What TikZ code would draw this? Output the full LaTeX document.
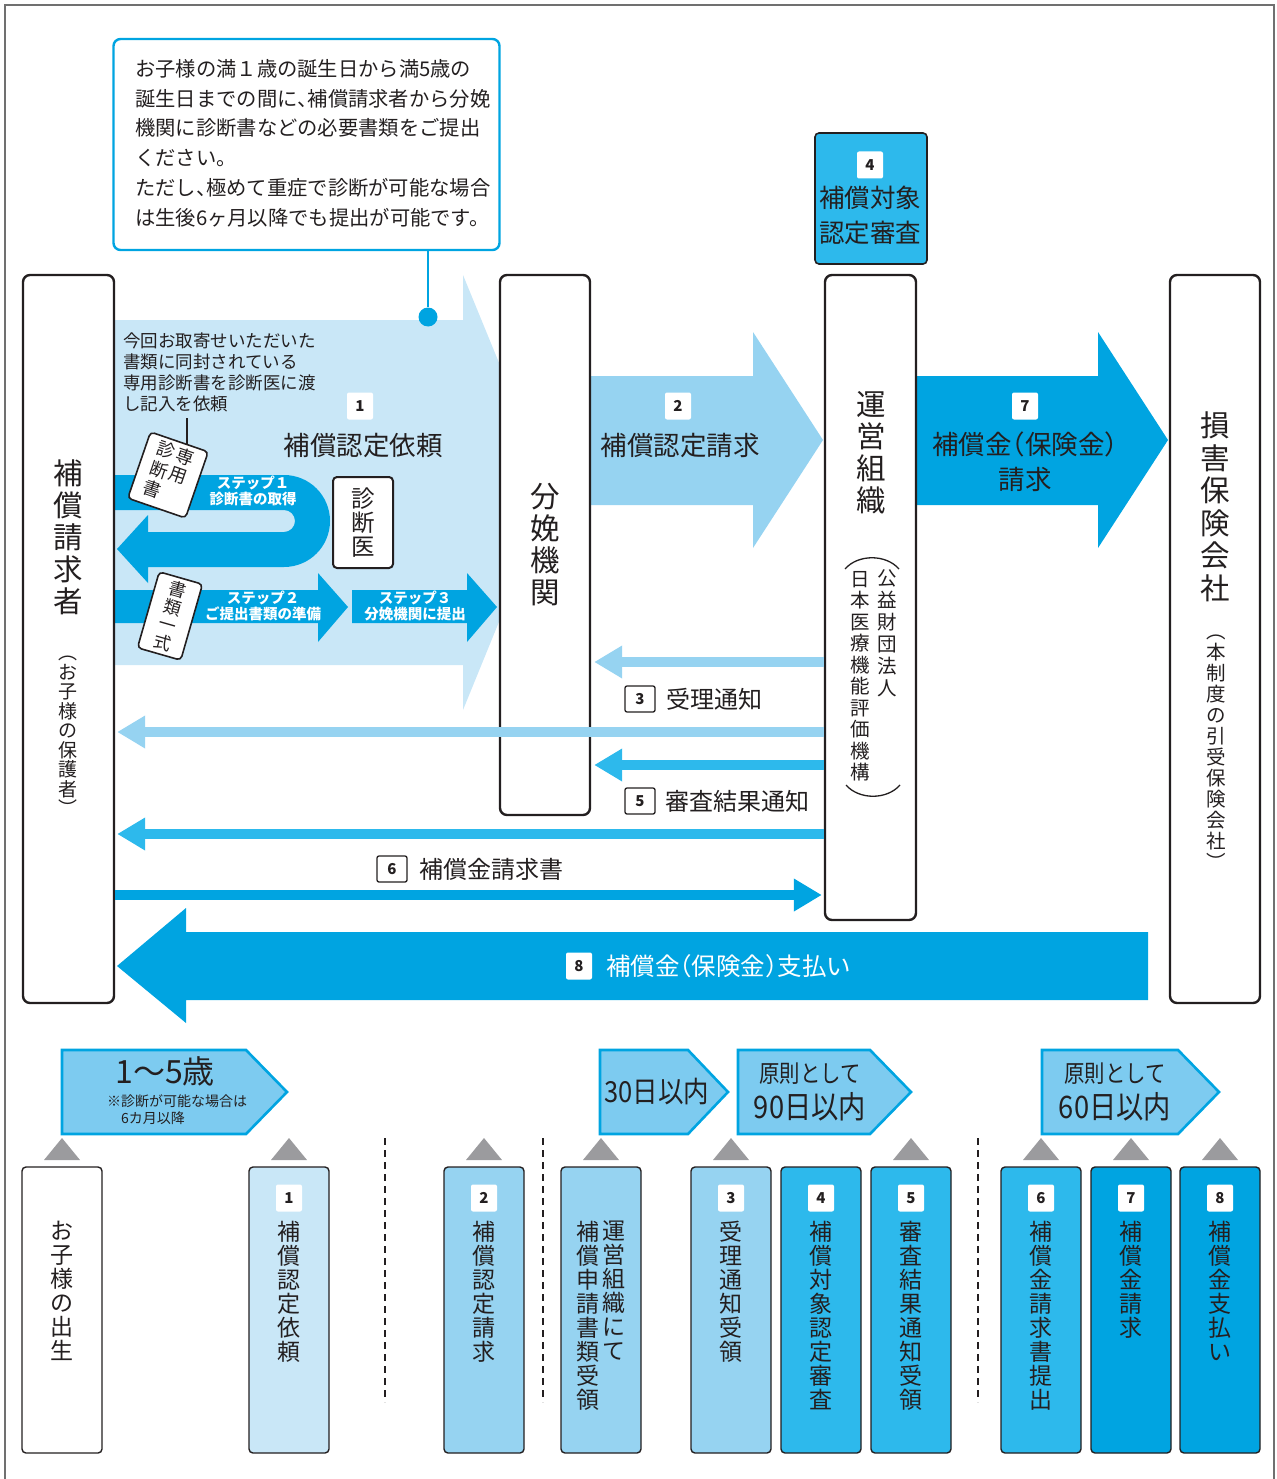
\documentclass[tikz,border=0pt]{standalone}
\usepackage{fontspec}
\usepackage{graphicx}
\setmainfont{Noto Sans CJK JP}
\usetikzlibrary{arrows.meta}
\definecolor{cA}{HTML}{C9E7F7}
\definecolor{cB}{HTML}{96D3F1}
\definecolor{cC}{HTML}{2DB9EC}
\definecolor{cD}{HTML}{00A4E1}
\definecolor{cP}{HTML}{7DCBF0}
\definecolor{cT}{HTML}{231F20}
\definecolor{cG}{HTML}{9B9B9E}
\definecolor{cF}{HTML}{707070}
\newcommand\fs[2]{\fontsize{#1}{#2}\selectfont}
\newcommand\lpar{\makebox[0.5em][r]{（}}
\newcommand\rpar{\makebox[0.5em][l]{）}}
\newcommand\tou{\makebox[0.5em][l]{、}}
\newcommand\vcol[1]{\begin{tabular}[t]{@{}c@{}}#1\end{tabular}}
\begin{document}
\begin{tikzpicture}[x=1pt,y=-1pt,
  every node/.style={text=cT, inner sep=0pt},
  bigbox/.style={draw=cT, line width=2.4pt, rounded corners=7pt, fill=white},
  card/.style={draw=cT, line width=1.4pt, rounded corners=4pt, minimum width=80pt, minimum height=286pt},
  badge/.style={fill=white, rounded corners=2pt, minimum width=26pt, minimum height=27pt, font=\fs{15}{15}\bfseries},
  nbox/.style={draw=cT, fill=white, line width=1.3pt, rounded corners=2pt, minimum width=30pt, minimum height=26pt, font=\fs{15}{15}\bfseries},
  bigv/.style={align=center, font=\fs{29.5}{32}},
  smallv/.style={align=center, font=\fs{19.5}{21}},
  cardv/.style={align=center, anchor=north, font=\fs{23}{24}},
  steptxt/.style={align=center, text=white, font=\fs{14.5}{16}\bfseries},
  thinarrow/.style={line width=10.5pt, -{Triangle[length=28pt,width=31pt]}},
  penta/.style={fill=cP, draw=cD, line width=2.6pt, line join=miter},
  tri/.style={fill=cG},
  sep/.style={draw=cT, line width=1.5pt, dash pattern=on 7pt off 5pt}
]
\useasboundingbox (0,0) rectangle (1276,1479);
% outer frame
\draw[cF, line width=1.3pt] (5,1479) -- (5,5) -- (1274,5) -- (1274,1479);

% callout
\node[draw=cD, line width=2.4pt, rounded corners=7pt, minimum width=386pt, minimum height=211pt] (callout) at (306.5,144.5) {};
\node[anchor=north west, align=left, font=\fs{20.3}{29.8}] (calloutT) at (135,59) {お子様の満１歳の誕生日から満5歳の\\誕生日までの間に\tou 補償請求者から分娩\\機関に診断書などの必要書類をご提出\\ください。\\ただし\tou 極めて重症で診断が可能な場合\\は生後6ヶ月以降でも提出が可能です。};

% big arrow 1
\fill[cA] (114,320) -- (463,320) -- (463,275) -- (552,492) -- (463,710) -- (463,665) -- (114,665) -- cycle;
\node[circle, fill=cD, minimum size=19pt] (dot) at (428,317) {};
\draw[cD, line width=2.4pt] (callout.south -| dot) -- (dot);

% arrow 1 text
\node[anchor=north west, align=left, font=\fs{17.5}{21}] (a1T) at (123,333) {今回お取寄せいただいた\\書類に同封されている\\専用診断書を診断医に渡\\し記入を依頼};
\node[badge] (b1) at (360,406) {1};
\node[font=\fs{26.5}{28}] (t1) at (363,445) {補償認定依頼};

% step 1 U arrow
\fill[cD] (114,475) -- (284,475) arc[start angle=-90, end angle=90, radius=46] -- (148,567) -- (148,583) -- (117,549) -- (148,515) -- (148,532) -- (284,532) arc[start angle=90, end angle=-90, radius=11] -- (114,510) -- cycle;
\node[steptxt] (s1) at (253,491) {ステップ１\\診断書の取得};
% step 2 and 3
\fill[cD] (114,590) -- (318,590) -- (318,573) -- (348,607) -- (318,642) -- (318,623) -- (114,623) -- cycle;
\fill[cD] (352,590) -- (467,590) -- (467,573) -- (497,607) -- (467,642) -- (467,623) -- (352,623) -- cycle;
\node[steptxt] (s2) at (263,606) {ステップ２\\ご提出書類の準備};
\node[steptxt] (s3) at (415,606) {ステップ３\\分娩機関に提出};

% doctor box
\node[draw=cT, fill=white, line width=2pt, rounded corners=4pt, minimum width=60pt, minimum height=91pt] (doc) at (363,522.5) {};
\node[align=center, font=\fs{23.5}{24}] (docT) at (363,523) {診\\断\\医};

% cards
\coordinate (cardtop) at (187,418);
\node[draw=cT, fill=white, line width=1.6pt, rounded corners=4pt, minimum width=61pt, minimum height=70pt, rotate=-19, font=\fs{18}{19}] (card1) at (168,475) {\vcol{診\\断\\書}\hspace{2pt}\vcol{専\\用}};
\draw[cT, line width=1.2pt] (cardtop) -- (187,444);
\node[draw=cT, fill=white, line width=1.6pt, rounded corners=4pt, minimum width=45pt, minimum height=79pt, rotate=-16, align=center, font=\fs{17.5}{18.5}] (card2) at (170,616) {書\\類\\一\\式};

% arrows 2 and 7
\fill[cB] (590,376) -- (753,376) -- (753,332) -- (823,440) -- (753,548) -- (753,505) -- (590,505) -- cycle;
\fill[cD] (916,376) -- (1098,376) -- (1098,332) -- (1168,440) -- (1098,548) -- (1098,505) -- (916,505) -- cycle;
\node[badge] (b2) at (678,406) {2};
\node[font=\fs{26.5}{28}] (t2) at (680,445) {補償認定請求};
\node[badge] (b7) at (1025,406) {7};
\node[align=center, font=\fs{26.5}{35}] (t7) at (1025,461.5) {補償金\lpar 保険金\rpar\\請求};

% main boxes
\node[bigbox, minimum width=91pt, minimum height=728pt] (seikyu) at (68.5,639) {};
\node[bigbox, minimum width=90pt, minimum height=540pt] (bunben) at (545,545) {};
\node[bigbox, minimum width=91pt, minimum height=645pt] (unei) at (870.5,597.5) {};
\node[bigbox, minimum width=90pt, minimum height=728pt] (songai) at (1215,639) {};
\node[draw=cT, fill=cC, line width=1.6pt, rounded corners=4pt, minimum width=112pt, minimum height=131pt] (shinsa) at (871,198.5) {};
\node[badge] (b4) at (870,165) {4};
\node[align=center, font=\fs{25.5}{35}] (t4) at (870,215.5) {補償対象\\認定審査};

\node[bigv] (seikyuT) at (68,537) {補\\償\\請\\求\\者};
\node[smallv, font=\fs{19}{19.5}] (seikyuS) at (68,736) {︵\\お\\子\\様\\の\\保\\護\\者\\︶};
\node[bigv] (bunbenT) at (545,545) {分\\娩\\機\\関};
\node[bigv] (uneiT) at (871,453) {運\\営\\組\\織};
\node[smallv, font=\fs{19.5}{22}] (uneiS1) at (887,633) {公\\益\\財\\団\\法\\人};
\node[smallv, font=\fs{19.5}{21.5}] (uneiS2) at (860,676) {日\\本\\医\\療\\機\\能\\評\\価\\機\\構};
\draw[cT, line width=1.3pt] (845,569) .. controls (858,554) and (886,554) .. (899,569);
\draw[cT, line width=1.3pt] (846,785) .. controls (859,800) and (887,800) .. (900,785);
\node[bigv, font=\fs{29.5}{32.5}] (songaiT) at (1215,507) {損\\害\\保\\険\\会\\社};
\node[smallv] (songaiS) at (1216,752) {︵\\本\\制\\度\\の\\引\\受\\保\\険\\会\\社\\︶};

% thin arrows
\draw[thinarrow, cB, shorten >=3pt] (unei.west |- 0,662) -- (bunben.east |- 0,662);
\draw[thinarrow, cB, shorten >=2pt] (unei.west |- 0,732) -- (seikyu.east |- 0,732);
\draw[thinarrow, cC, shorten >=3pt] (unei.west |- 0,765) -- (bunben.east |- 0,765);
\draw[thinarrow, cC, shorten >=2pt] (unei.west |- 0,834) -- (seikyu.east |- 0,834);
\draw[thinarrow, cD, shorten >=2pt] (seikyu.east |- 0,895) -- (unei.west |- 0,895);

\node[nbox] (n3) at (640,699) {3};
\node[anchor=west, font=\fs{24}{24}] (l3) at (666,699) {受理通知};
\node[nbox] (n5) at (640,801) {5};
\node[anchor=west, font=\fs{24}{24}] (l5) at (665,801) {審査結果通知};
\node[nbox] (n6) at (392,869) {6};
\node[anchor=west, font=\fs{24}{24}] (l6) at (419,869) {補償金請求書};

% arrow 8
\fill[cD] (1148,932) -- (186,932) -- (186,908) -- (117,966) -- (186,1023) -- (186,1000) -- (1148,1000) -- cycle;
\node[badge] (b8) at (579,966) {8};
\node[anchor=west, text=white, font=\fs{24.5}{25}] (l8) at (606,966) {補償金\lpar 保険金\rpar 支払い};

% timeline pentagons
\draw[penta] (62,1050) -- (246,1050) -- (287,1092) -- (246,1134) -- (62,1134) -- cycle;
\draw[penta] (600,1050) -- (688,1050) -- (728,1092) -- (688,1134) -- (600,1134) -- cycle;
\draw[penta] (738,1050) -- (870,1050) -- (911,1092) -- (870,1134) -- (738,1134) -- cycle;
\draw[penta] (1042,1050) -- (1178,1050) -- (1219,1092) -- (1178,1134) -- (1042,1134) -- cycle;
\node[font=\fs{32}{32}] (p1a) at (165,1071) {1〜5歳};
\node[anchor=north west, align=left, font=\fs{14}{17}] (p1b) at (107,1094) {※診断が可能な場合は\\\hspace*{1em}6カ月以降};
\node[font=\fs{29}{29}, xscale=0.88] (p2) at (657,1092) {30日以内};
\node[font=\fs{24}{24}, xscale=0.85] (p3a) at (810,1074) {原則として};
\node[font=\fs{31}{31}, xscale=0.88] (p3b) at (810,1107) {90日以内};
\node[font=\fs{24}{24}, xscale=0.85] (p4a) at (1115,1074) {原則として};
\node[font=\fs{31}{31}, xscale=0.88] (p4b) at (1115,1107) {60日以内};

% triangles
\foreach \tx in {62,289,484,601,731,911,1041,1131,1220}
  \fill[tri] (\tx-18,1160) -- (\tx+18,1160) -- (\tx,1138) -- cycle;

% separators
\draw[sep] (385,1138) -- (385,1402);
\draw[sep] (543,1138) -- (543,1402);
\draw[sep] (978,1138) -- (978,1402);

% bottom cards
\node[card, fill=white] (k0) at (62,1310) {};
\node[cardv] (k0t) at (62,1221) {お\\子\\様\\の\\出\\生};
\node[card, fill=cA] (k1) at (289,1310) {};
\node[badge] (kb1) at (289,1198) {1};
\node[cardv] (k1t) at (289,1221) {補\\償\\認\\定\\依\\頼};
\node[card, fill=cB] (k2) at (484,1310) {};
\node[badge] (kb2) at (484,1198) {2};
\node[cardv] (k2t) at (484,1221) {補\\償\\認\\定\\請\\求};
\node[card, fill=cB] (kx) at (601,1310) {};
\node[cardv] (kxt1) at (614,1221) {運\\営\\組\\織\\に\\て};
\node[cardv] (kxt2) at (588,1221) {補\\償\\申\\請\\書\\類\\受\\領};
\node[card, fill=cB] (k3) at (731,1310) {};
\node[badge] (kb3) at (731,1198) {3};
\node[cardv] (k3t) at (731,1221) {受\\理\\通\\知\\受\\領};
\node[card, fill=cC] (k4) at (821,1310) {};
\node[badge] (kb4) at (821,1198) {4};
\node[cardv] (k4t) at (821,1221) {補\\償\\対\\象\\認\\定\\審\\査};
\node[card, fill=cC] (k5) at (911,1310) {};
\node[badge] (kb5) at (911,1198) {5};
\node[cardv] (k5t) at (911,1221) {審\\査\\結\\果\\通\\知\\受\\領};
\node[card, fill=cC] (k6) at (1041,1310) {};
\node[badge] (kb6) at (1041,1198) {6};
\node[cardv] (k6t) at (1041,1221) {補\\償\\金\\請\\求\\書\\提\\出};
\node[card, fill=cD] (k7) at (1131,1310) {};
\node[badge] (kb7) at (1131,1198) {7};
\node[cardv] (k7t) at (1131,1221) {補\\償\\金\\請\\求};
\node[card, fill=cD] (k8) at (1220,1310) {};
\node[badge] (kb8) at (1220,1198) {8};
\node[cardv] (k8t) at (1220,1221) {補\\償\\金\\支\\払\\い};
\end{tikzpicture}
\end{document}
